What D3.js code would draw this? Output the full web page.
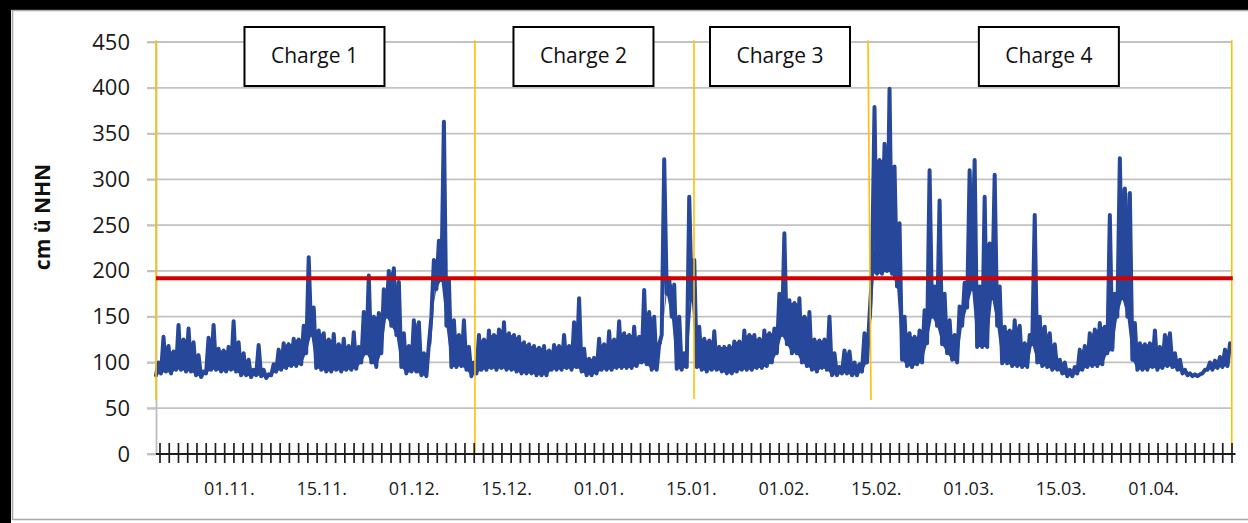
<!DOCTYPE html>
<html><head><meta charset="utf-8">
<script src="https://cdn.jsdelivr.net/npm/d3@7"></script>
<style>html,body{margin:0;padding:0;background:#fff;} svg{display:block;}</style>
</head><body>
<svg id="c" width="1248" height="523"></svg>
<script>
// ---- data (water level, cm ü NHN) : low / high water per time step ----
const lowWater = [
 86,88,90,88,92,92,90,90,86,84, 88,92,92,90,90,92,90,86,86,84,
 86,85,83,86,90,92,94,96,96,98, 110,130,94,92,90,90,92,90,92,92,
 93,100,110,100,95,110,150,140,130,95, 88,90,90,86,85,150,180,190,140,95,
 95,96,92,85,88,92,92,94,92,94, 92,92,90,88,88,88,86,86,86,92,
 92,92,94,92,95,90,86,86,88,92, 92,92,94,94,94,94,96,100,98,92,
 92,130,175,150,93,92,95,168,95,92, 90,92,92,90,88,88,90,92,92,92,
 94,94,96,100,110,130,120,110,110,100, 96,92,90,94,92,86,86,88,88,86,
 86,90,100,197,197,197,200,197,183,103, 96,95,98,100,121,150,140,120,110,103,
 100,140,160,180,117,117,117,170,140,99, 99,96,96,95,95,120,100,96,95,92,
 92,88,85,85,88,92,95,96,96,98, 110,114,150,170,150,103,92,92,92,95,
 92,94,96,95,92,88,86,85,85,88, 92,92,94,95,96
];
const highWater = [
 100,128,118,112,141,125,137,122,108,90, 127,141,115,113,117,145,122,110,103,92,
 119,92,87,98,114,121,120,126,125,140, 215,160,135,132,125,131,120,126,118,133,
 117,155,195,150,154,180,200,203,188,132, 118,146,144,110,120,212,233,363,190,146,
 130,146,117,100,130,125,135,130,136,144, 132,130,128,122,120,118,116,118,113,119,
 118,130,118,144,170,115,104,105,126,120, 134,125,145,132,130,139,128,179,155,150,
 120,322,192,185,150,110,281,212,139,126, 124,134,117,117,118,123,123,135,130,130,
 126,135,132,137,175,241,168,165,170,150, 155,125,124,125,150,110,95,113,112,100,
 98,132,150,379,321,339,399,314,252,150, 132,128,135,157,310,183,277,175,146,130,
 161,187,310,321,183,281,230,305,183,139, 135,146,140,121,130,261,150,139,132,120,
 103,100,92,95,114,118,132,136,143,139, 261,175,323,290,285,143,121,120,121,135,
 117,130,132,110,103,92,88,87,87,92, 100,102,106,114,121
];
const limitLevel = 192;
const yTicks = [0, 50, 100, 150, 200, 250, 300, 350, 400, 450];
const xLabels = ["01.11.", "15.11.", "01.12.", "15.12.", "01.01.", "15.01.", "01.02.", "15.02.", "01.03.", "15.03.", "01.04."];
const chargeNames = ["Charge 1", "Charge 2", "Charge 3", "Charge 4"];
// charge boundaries in time-step units (top / bottom end) and their level range
const boundaryStepTop = [0, 63.7, 107.45, 142.2, 214.85];
const boundaryStepBottom = [0, 63.7, 107.45, 142.8, 214.85];
const boundaryTopLevel = [452, 452, 452, 452, 452];
const boundaryBottomLevel = [59, 0, 60, 59, 0];
const categoryCount = 116;
const firstLabelCategory = 7;
const labelEvery = 10;

// ---- drawing ----
const svg = d3.select("#c");
const W = 1248, H = 523;
svg.append("rect").attr("width", W).attr("height", H).attr("fill", "#fff");
svg.append("rect").attr("x", 0).attr("y", 0).attr("width", W).attr("height", 10).attr("fill", "#000");
svg.append("rect").attr("x", 0).attr("y", 0).attr("width", 11).attr("height", H).attr("fill", "#000");
svg.append("path").attr("d", `M${W},10.5 H12.5 V519.5 H${W}`).attr("fill", "none")
   .attr("stroke", "#a9a9a9").attr("stroke-width", 1.6);

const y = d3.scaleLinear().domain([0, 450]).range([454, 42]);
const xStep = d3.scaleLinear().domain([0, lowWater.length - 0.5]).range([156, 1230]);
const xTick = d3.scaleLinear().domain([0, categoryCount]).range([159.5, 1231.5]);

const font = "'Open Sans', 'Noto Sans', sans-serif";

// gridlines
svg.append("g").selectAll("line").data(yTicks).join("line")
  .attr("x1", 147).attr("x2", 1231)
  .attr("y1", d => y(d)).attr("y2", d => y(d))
  .attr("stroke", "#c2c2c2").attr("stroke-width", 1.8);

// y axis
const yAx = svg.append("g").attr("transform", "translate(156,0)")
  .call(d3.axisLeft(y).tickValues(yTicks).tickSize(9).tickSizeOuter(0).tickPadding(17));
yAx.select(".domain").attr("stroke", "#bdbdbd").attr("stroke-width", 1.8);
yAx.selectAll(".tick line").attr("stroke", "#c2c2c2").attr("stroke-width", 1.8);
yAx.selectAll("text").attr("font-family", font).attr("font-size", 22).attr("fill", "#1a1a1a");

// y title
svg.append("text").attr("transform", "translate(50,217) rotate(-90)")
  .attr("text-anchor", "middle").attr("font-family", font).attr("font-weight", "bold")
  .attr("font-size", 21).attr("fill", "#111").text("cm ü NHN");

// series: dense tidal oscillation — fill the troughs between neighbouring high waters,
// then draw the alternating low / high water line on top
const blue = "#27479b";
svg.append("path").datum(lowWater)
  .attr("d", d3.area()
     .x((d, i) => xStep(i))
     .y0((d, i) => y(lowWater[i]))
     .y1((d, i) => y(i === 0 ? lowWater[0] : Math.min(highWater[i - 1], highWater[i]))))
  .attr("fill", blue).attr("stroke", "none");
const pts = lowWater.flatMap((lo, i) => [[i, lo], [i + 0.5, highWater[i]]]);
svg.append("path").datum(pts)
  .attr("d", d3.line().x(d => xStep(d[0])).y(d => y(d[1])))
  .attr("fill", "none").attr("stroke", blue).attr("stroke-width", 4)
  .attr("stroke-linejoin", "round").attr("stroke-linecap", "round");

// charge boundaries
svg.append("g").selectAll("line").data(boundaryStepTop).join("line")
  .attr("x1", d => xStep(d)).attr("x2", (d, k) => xStep(boundaryStepBottom[k]))
  .attr("y1", (d, k) => y(boundaryTopLevel[k])).attr("y2", (d, k) => y(boundaryBottomLevel[k]))
  .attr("stroke", "#ffc000").attr("stroke-width", 1.6);

// limit line
svg.append("line").attr("x1", xStep(0)).attr("x2", xStep(boundaryStepTop[boundaryStepTop.length - 1]) + 1)
  .attr("y1", y(limitLevel)).attr("y2", y(limitLevel))
  .attr("stroke", "#d40000").attr("stroke-width", 4);

// x axis
svg.append("line").attr("x1", xStep(0)).attr("x2", xTick(categoryCount) + 4)
  .attr("y1", y(0)).attr("y2", y(0)).attr("stroke", "#1a1a1a").attr("stroke-width", 1.8);
const xAx = svg.append("g").attr("transform", `translate(0,${y(0)})`)
  .call(d3.axisBottom(xTick).tickValues(d3.range(0, categoryCount + 1)).tickFormat("").tickSizeOuter(0));
xAx.select(".domain").remove();
xAx.selectAll(".tick line").attr("y1", -11).attr("y2", 9).attr("stroke", "#1f1f1f").attr("stroke-width", 1.7);
const labelPos = xLabels.map((_, k) => firstLabelCategory + 0.5 + k * labelEvery);
const xLab = svg.append("g").attr("transform", `translate(0,${y(0)})`)
  .call(d3.axisBottom(xTick).tickValues(labelPos).tickSize(0).tickPadding(28)
        .tickFormat((d, k) => xLabels[k]));
xLab.select(".domain").remove();
xLab.selectAll("text").attr("font-family", font).attr("font-size", 18).attr("fill", "#1a1a1a");

// charge boxes
const boxes = svg.append("g").selectAll("g").data(chargeNames).join("g")
  .attr("transform", (d, k) => `translate(${(xStep(boundaryStepTop[k]) + xStep(boundaryStepTop[k + 1])) / 2 - 1},0)`);
boxes.append("rect").attr("x", -70).attr("y", 27).attr("width", 140).attr("height", 59)
  .attr("fill", "#fff").attr("stroke", "#000").attr("stroke-width", 2);
boxes.append("text").attr("x", 0).attr("y", 63).attr("text-anchor", "middle")
  .attr("font-family", font).attr("font-size", 21).attr("fill", "#111").text(d => d);
</script>
</body></html>
